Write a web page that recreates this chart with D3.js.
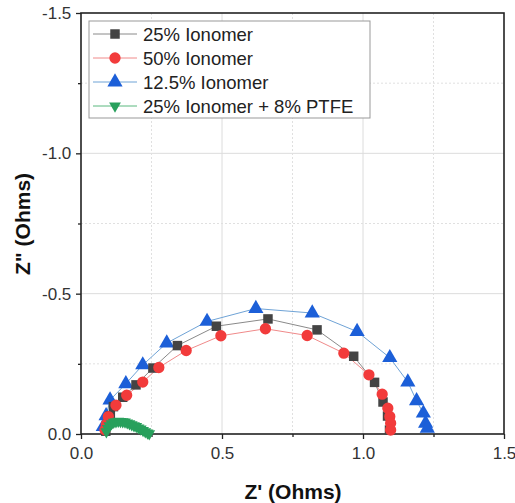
<!DOCTYPE html>
<html><head><meta charset="utf-8">
<script src="https://cdn.jsdelivr.net/npm/d3@7"></script>
<style>body{margin:0;background:#fff}svg{display:block}text{font-family:"Liberation Sans",Arial,sans-serif}</style>
</head><body><svg id="c" width="515" height="503"></svg>
<script>
const seriesNames = ["25% Ionomer","50% Ionomer","12.5% Ionomer","25% Ionomer + 8% PTFE"];
// Z' (Ohms)
const x25 = [0.088,0.095,0.104,0.115,0.148,0.195,0.255,0.342,0.48,0.663,0.837,0.967,1.041,1.071,1.087,1.094];
// Z'' (Ohms)
const y25 = [-0.01,-0.035,-0.065,-0.0975,-0.131,-0.175,-0.235,-0.315,-0.384,-0.41,-0.371,-0.277,-0.184,-0.114,-0.064,-0.014];
const x50 = [0.085,0.09,0.097,0.124,0.162,0.219,0.276,0.373,0.496,0.654,0.802,0.932,1.021,1.068,1.088,1.095,1.098,1.098];
const y50 = [-0.015,-0.035,-0.062,-0.1025,-0.138,-0.185,-0.237,-0.2975,-0.35,-0.375,-0.351,-0.288,-0.211,-0.142,-0.092,-0.062,-0.038,-0.014];
const x125 = [0.079,0.089,0.103,0.159,0.219,0.304,0.447,0.62,0.82,0.979,1.095,1.159,1.19,1.214,1.222,1.228];
const y125 = [-0.026,-0.065,-0.121,-0.179,-0.246,-0.324,-0.401,-0.447,-0.431,-0.365,-0.272,-0.185,-0.118,-0.074,-0.038,-0.02];
const xPTFE = [0.09,0.095,0.1,0.108,0.116,0.124,0.132,0.14,0.148,0.156,0.164,0.172,0.18,0.188,0.196,0.204,0.212,0.22,0.228,0.236,0.242];
const yPTFE = [-0.008,-0.02,-0.03,-0.037,-0.042,-0.044,-0.046,-0.045,-0.044,-0.043,-0.04,-0.037,-0.033,-0.03,-0.027,-0.022,-0.018,-0.013,-0.008,-0.004,-0.001];
const xTicks = [0,0.5,1.0,1.5];
const xTickLabels = ["0.0","0.5","1.0","1.5"];
const yTicks = [0,-0.5,-1.0,-1.5];
const yTickLabels = ["0.0","-0.5","-1.0","-1.5"];
const xMinor = [0.25,0.75,1.25];
const yMinor = [-0.25,-0.75,-1.25];

const svg = d3.select("#c");
const L=81,R=504,T=13,B=434;
const x = d3.scaleLinear().domain([0,1.5]).range([L,R]);
const y = d3.scaleLinear().domain([0,-1.5]).range([B,T]);

// grid
const g = svg.append("g");
g.selectAll(".gx").data(xTicks.slice(1,3)).join("line").attr("x1",d=>x(d)).attr("x2",d=>x(d)).attr("y1",T).attr("y2",B).attr("stroke","#dcdcdc").attr("stroke-width",1);
g.selectAll(".gy").data(yTicks.slice(1,3)).join("line").attr("y1",d=>y(d)).attr("y2",d=>y(d)).attr("x1",L).attr("x2",R).attr("stroke","#dcdcdc").attr("stroke-width",1);
g.selectAll(".gxm").data(xMinor).join("line").attr("x1",d=>x(d)).attr("x2",d=>x(d)).attr("y1",T).attr("y2",B).attr("stroke","#e0e0e0").attr("stroke-dasharray","2,2");
g.selectAll(".gym").data(yMinor).join("line").attr("y1",d=>y(d)).attr("y2",d=>y(d)).attr("x1",L).attr("x2",R).attr("stroke","#e0e0e0").attr("stroke-dasharray","2,2");

// axes
const xAxis = d3.axisBottom(x).tickValues(xTicks).tickFormat((d,i)=>xTickLabels[i]).tickSize(5).tickSizeOuter(0);
const yAxis = d3.axisLeft(y).tickValues(yTicks).tickFormat((d,i)=>yTickLabels[i]).tickSize(5).tickSizeOuter(0);
const gx = svg.append("g").attr("transform",`translate(0,${B})`).call(xAxis);
const gy = svg.append("g").attr("transform",`translate(${L},0)`).call(yAxis);
svg.append("g").attr("transform",`translate(0,${B})`).call(d3.axisBottom(x).tickValues(xMinor).tickFormat("").tickSize(3).tickSizeOuter(0)).select(".domain").remove();
svg.append("g").attr("transform",`translate(${L},0)`).call(d3.axisLeft(y).tickValues(yMinor).tickFormat("").tickSize(3).tickSizeOuter(0)).select(".domain").remove();
svg.selectAll(".tick line").attr("stroke","#222").attr("stroke-width",1.3);
[gx,gy].forEach(a=>{a.select(".domain").remove();a.selectAll("text").attr("font-size",17).attr("fill","#333");});
gx.selectAll("text").attr("dy","1.0em");
gy.selectAll("text").attr("dx","-0.1em");

// frame
svg.append("rect").attr("x",L).attr("y",T).attr("width",R-L).attr("height",B-T).attr("fill","none").attr("stroke","#222").attr("stroke-width",1.6);

// series
const series = [
 {xs:x25,ys:y25,color:"#444444",line:"#8a8a8a",shape:d3.symbolSquare,size:90,rot:0},
 {xs:x50,ys:y50,color:"#f23b3b",line:"#f08a8a",shape:d3.symbolCircle,size:100,rot:0},
 {xs:x125,ys:y125,color:"#1c5fd8",line:"#6fa3d6",shape:d3.symbolTriangle,size:100,rot:0},
 {xs:xPTFE,ys:yPTFE,color:"#28a05c",line:"#5ab87e",shape:d3.symbolTriangle,size:60,rot:180}
];
const drawOrder=[2,0,1,3];
drawOrder.forEach(i=>{
 const s=series[i];
 const pts=s.xs.map((v,k)=>[v,s.ys[k]]);
 svg.append("path").datum(pts).attr("fill","none").attr("stroke",s.line).attr("stroke-width",1)
  .attr("d",d3.line().x(d=>x(d[0])).y(d=>y(d[1])));
});
drawOrder.forEach(i=>{
 const s=series[i];
 const pts=s.xs.map((v,k)=>[v,s.ys[k]]);
 svg.append("g").selectAll("path").data(pts).join("path")
  .attr("d",d3.symbol().type(s.shape).size(s.size))
  .attr("transform",d=>`translate(${x(d[0])},${y(d[1])}) rotate(${s.rot})`)
  .attr("fill",s.color);
});

// legend
const lg = svg.append("g");
lg.append("rect").attr("x",89).attr("y",21).attr("width",281).attr("height",97).attr("fill","#fff").attr("stroke","#999").attr("stroke-width",1);
const ly=[34,58,82,106];
series.forEach((s,i)=>{
 lg.append("line").attr("x1",93).attr("x2",137).attr("y1",ly[i]).attr("y2",ly[i]).attr("stroke",s.line).attr("stroke-width",1);
 lg.append("path").attr("d",d3.symbol().type(s.shape).size(s.size)).attr("transform",`translate(115,${ly[i]}) rotate(${s.rot})`).attr("fill",s.color);
 lg.append("text").attr("x",143).attr("y",ly[i]).attr("dy","0.36em").attr("font-size",18.5).attr("fill","#222").text(seriesNames[i]);
});

// axis titles
svg.append("text").attr("x",293).attr("y",499).attr("text-anchor","middle").attr("font-size",21).attr("font-weight","bold").attr("fill","#111").text("Z' (Ohms)");
svg.append("text").attr("transform","translate(30,224) rotate(-90)").attr("text-anchor","middle").attr("font-size",21).attr("font-weight","bold").attr("fill","#111").text('Z" (Ohms)');
</script></body></html>
